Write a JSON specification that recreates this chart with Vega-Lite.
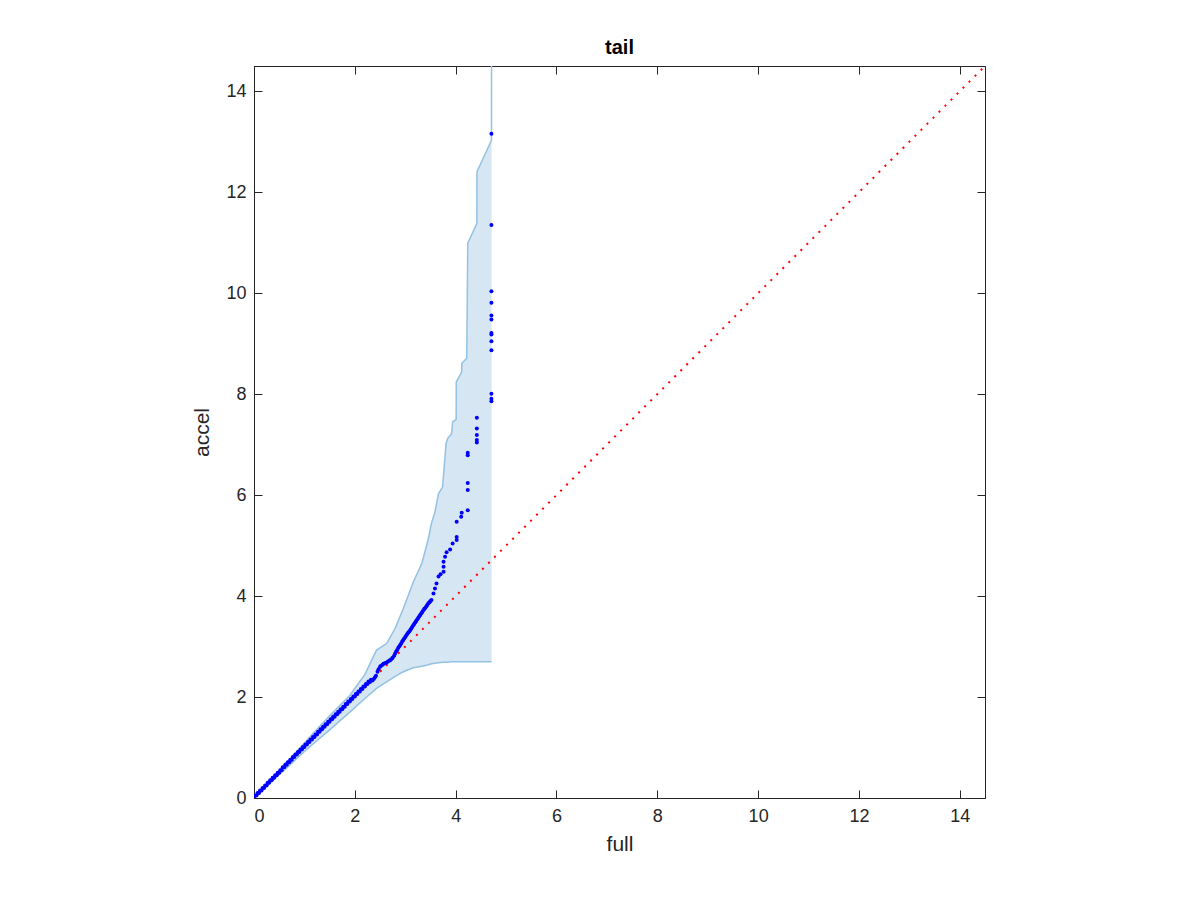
{
  "$schema": "https://vega.github.io/schema/vega-lite/v6.json",
  "autosize": {"type": "none"},
  "padding": {"left": 254, "top": 66, "right": 215, "bottom": 102},
  "width": 731,
  "height": 732,
  "background": "white",
  "title": {"text": "tail", "fontSize": 20, "fontWeight": "bold", "font": "Liberation Sans", "color": "#000000", "offset": 8, "anchor": "middle"},
  "config": {
    "view": {"stroke": "#262626", "strokeWidth": 1},
    "axis": {
      "grid": false, "domainColor": "#262626", "tickColor": "#262626", "labelColor": "#262626", "titleColor": "#262626",
      "labelFont": "Liberation Sans", "titleFont": "Liberation Sans", "labelFontSize": 18, "titleFontSize": 21, "titleFontWeight": "normal",
      "tickSize": -8, "tickWidth": 1, "domainWidth": 1
    }
  },
  "datasets": {
    "band": [
      {"x": 0.0, "hi": 0.0, "lo": 0.0},
      {"x": 0.5, "hi": 0.54, "lo": 0.46},
      {"x": 1.0, "hi": 1.09, "lo": 0.92},
      {"x": 1.24, "hi": 1.35, "lo": 1.13},
      {"x": 1.5, "hi": 1.63, "lo": 1.35},
      {"x": 1.9, "hi": 2.03, "lo": 1.70},
      {"x": 2.2, "hi": 2.45, "lo": 1.97},
      {"x": 2.43, "hi": 2.93, "lo": 2.17},
      {"x": 2.63, "hi": 3.06, "lo": 2.30},
      {"x": 2.80, "hi": 3.36, "lo": 2.41},
      {"x": 2.96, "hi": 3.75, "lo": 2.50},
      {"x": 3.16, "hi": 4.28, "lo": 2.58},
      {"x": 3.33, "hi": 4.65, "lo": 2.61},
      {"x": 3.46, "hi": 5.14, "lo": 2.64},
      {"x": 3.52, "hi": 5.44, "lo": 2.66},
      {"x": 3.59, "hi": 5.67, "lo": 2.67},
      {"x": 3.66, "hi": 6.03, "lo": 2.68},
      {"x": 3.74, "hi": 6.16, "lo": 2.69},
      {"x": 3.81, "hi": 7.02, "lo": 2.69},
      {"x": 3.84, "hi": 7.12, "lo": 2.69},
      {"x": 3.92, "hi": 7.22, "lo": 2.70},
      {"x": 3.94, "hi": 7.45, "lo": 2.70},
      {"x": 4.01, "hi": 7.50, "lo": 2.70},
      {"x": 4.012, "hi": 8.24, "lo": 2.70},
      {"x": 4.12, "hi": 8.44, "lo": 2.70},
      {"x": 4.122, "hi": 8.61, "lo": 2.70},
      {"x": 4.22, "hi": 8.71, "lo": 2.70},
      {"x": 4.24, "hi": 10.99, "lo": 2.70},
      {"x": 4.42, "hi": 11.38, "lo": 2.70},
      {"x": 4.422, "hi": 12.40, "lo": 2.70},
      {"x": 4.71, "hi": 13.03, "lo": 2.70},
      {"x": 4.712, "hi": 14.5, "lo": 2.70}
    ],
    "diag": [{"x": 0, "y": 0}, {"x": 14.5, "y": 14.5}],
    "qq": [
      {"x": 0.00, "y": 0.00}, {"x": 0.05, "y": 0.05}, {"x": 0.10, "y": 0.10}, {"x": 0.15, "y": 0.15}, {"x": 0.20, "y": 0.20},
      {"x": 0.25, "y": 0.25}, {"x": 0.30, "y": 0.30}, {"x": 0.35, "y": 0.35}, {"x": 0.40, "y": 0.40}, {"x": 0.45, "y": 0.45},
      {"x": 0.50, "y": 0.50}, {"x": 0.55, "y": 0.55}, {"x": 0.60, "y": 0.61}, {"x": 0.65, "y": 0.66}, {"x": 0.70, "y": 0.71},
      {"x": 0.75, "y": 0.76}, {"x": 0.80, "y": 0.81}, {"x": 0.85, "y": 0.86}, {"x": 0.90, "y": 0.91}, {"x": 0.95, "y": 0.96},
      {"x": 1.00, "y": 1.01}, {"x": 1.05, "y": 1.06}, {"x": 1.10, "y": 1.11}, {"x": 1.15, "y": 1.16}, {"x": 1.20, "y": 1.21},
      {"x": 1.25, "y": 1.26}, {"x": 1.30, "y": 1.31}, {"x": 1.35, "y": 1.36}, {"x": 1.40, "y": 1.41}, {"x": 1.45, "y": 1.46},
      {"x": 1.50, "y": 1.51}, {"x": 1.55, "y": 1.56}, {"x": 1.60, "y": 1.61}, {"x": 1.65, "y": 1.66}, {"x": 1.70, "y": 1.71},
      {"x": 1.75, "y": 1.76}, {"x": 1.80, "y": 1.81}, {"x": 1.85, "y": 1.86}, {"x": 1.90, "y": 1.91}, {"x": 1.95, "y": 1.96},
      {"x": 2.00, "y": 2.01}, {"x": 2.05, "y": 2.06}, {"x": 2.10, "y": 2.11}, {"x": 2.15, "y": 2.16}, {"x": 2.20, "y": 2.21},
      {"x": 2.25, "y": 2.26}, {"x": 2.30, "y": 2.30}, {"x": 2.35, "y": 2.33},
      {"x": 0.02, "y": 0.05}, {"x": 0.07, "y": 0.10}, {"x": 0.12, "y": 0.15}, {"x": 0.17, "y": 0.20}, {"x": 0.22, "y": 0.25},
      {"x": 0.27, "y": 0.30}, {"x": 0.32, "y": 0.35}, {"x": 0.37, "y": 0.40}, {"x": 0.42, "y": 0.45}, {"x": 0.47, "y": 0.50},
      {"x": 0.52, "y": 0.55}, {"x": 0.57, "y": 0.61}, {"x": 0.62, "y": 0.66}, {"x": 0.67, "y": 0.71}, {"x": 0.72, "y": 0.76},
      {"x": 0.77, "y": 0.81}, {"x": 0.82, "y": 0.86}, {"x": 0.87, "y": 0.91}, {"x": 0.92, "y": 0.96}, {"x": 0.97, "y": 1.01},
      {"x": 1.02, "y": 1.06}, {"x": 1.07, "y": 1.11}, {"x": 1.12, "y": 1.16}, {"x": 1.17, "y": 1.21}, {"x": 1.22, "y": 1.26},
      {"x": 1.27, "y": 1.31}, {"x": 1.32, "y": 1.36}, {"x": 1.37, "y": 1.41}, {"x": 1.42, "y": 1.46}, {"x": 1.47, "y": 1.51},
      {"x": 1.52, "y": 1.56}, {"x": 1.57, "y": 1.61}, {"x": 1.62, "y": 1.66}, {"x": 1.67, "y": 1.71}, {"x": 1.72, "y": 1.76},
      {"x": 1.77, "y": 1.81}, {"x": 1.82, "y": 1.86}, {"x": 1.87, "y": 1.91}, {"x": 1.92, "y": 1.96}, {"x": 1.97, "y": 2.01},
      {"x": 2.02, "y": 2.06}, {"x": 2.07, "y": 2.11}, {"x": 2.12, "y": 2.16}, {"x": 2.17, "y": 2.21}, {"x": 2.22, "y": 2.26},
      {"x": 2.27, "y": 2.31}, {"x": 2.32, "y": 2.34}, {"x": 2.40, "y": 2.39},
      {"x": 2.38, "y": 2.36}, {"x": 2.42, "y": 2.42}, {"x": 2.45, "y": 2.50}, {"x": 2.47, "y": 2.55}, {"x": 2.50, "y": 2.60},
      {"x": 2.52, "y": 2.62}, {"x": 2.57, "y": 2.66}, {"x": 2.62, "y": 2.68}, {"x": 2.68, "y": 2.72}, {"x": 2.72, "y": 2.75},
      {"x": 2.55, "y": 2.64}, {"x": 2.60, "y": 2.67}, {"x": 2.65, "y": 2.70}, {"x": 2.70, "y": 2.73}, {"x": 2.75, "y": 2.78},
      {"x": 2.78, "y": 2.82}, {"x": 2.82, "y": 2.90}, {"x": 2.86, "y": 2.97}, {"x": 2.90, "y": 3.03}, {"x": 2.94, "y": 3.10},
      {"x": 2.80, "y": 2.86}, {"x": 2.84, "y": 2.93}, {"x": 2.88, "y": 3.00}, {"x": 2.92, "y": 3.06}, {"x": 2.96, "y": 3.13},
      {"x": 2.98, "y": 3.16}, {"x": 3.02, "y": 3.22}, {"x": 3.06, "y": 3.28}, {"x": 3.10, "y": 3.33}, {"x": 3.14, "y": 3.39},
      {"x": 3.00, "y": 3.19}, {"x": 3.04, "y": 3.25}, {"x": 3.08, "y": 3.30}, {"x": 3.12, "y": 3.36}, {"x": 3.16, "y": 3.42},
      {"x": 3.18, "y": 3.45}, {"x": 3.22, "y": 3.51}, {"x": 3.26, "y": 3.57}, {"x": 3.30, "y": 3.63}, {"x": 3.34, "y": 3.69},
      {"x": 3.20, "y": 3.48}, {"x": 3.24, "y": 3.54}, {"x": 3.28, "y": 3.60}, {"x": 3.32, "y": 3.66}, {"x": 3.36, "y": 3.72},
      {"x": 3.38, "y": 3.75}, {"x": 3.42, "y": 3.80}, {"x": 3.46, "y": 3.86}, {"x": 3.50, "y": 3.90},
      {"x": 3.40, "y": 3.77}, {"x": 3.44, "y": 3.83}, {"x": 3.48, "y": 3.88}, {"x": 3.52, "y": 3.92}, {"x": 3.56, "y": 4.05},
      {"x": 3.59, "y": 4.15}, {"x": 3.62, "y": 4.25}, {"x": 3.66, "y": 4.39}, {"x": 3.70, "y": 4.43}, {"x": 3.76, "y": 4.48},
      {"x": 3.76, "y": 4.58}, {"x": 3.76, "y": 4.68}, {"x": 3.79, "y": 4.78}, {"x": 3.82, "y": 4.87}, {"x": 3.89, "y": 4.92},
      {"x": 3.94, "y": 5.04}, {"x": 4.02, "y": 5.11}, {"x": 4.02, "y": 5.17}, {"x": 4.02, "y": 5.47}, {"x": 4.11, "y": 5.57},
      {"x": 4.12, "y": 5.65}, {"x": 4.24, "y": 5.70}, {"x": 4.24, "y": 6.10}, {"x": 4.24, "y": 6.24}, {"x": 4.24, "y": 6.79},
      {"x": 4.24, "y": 6.84}, {"x": 4.42, "y": 7.04}, {"x": 4.42, "y": 7.09}, {"x": 4.42, "y": 7.19}, {"x": 4.42, "y": 7.32},
      {"x": 4.42, "y": 7.53}, {"x": 4.71, "y": 7.86}, {"x": 4.71, "y": 7.91}, {"x": 4.71, "y": 8.01}, {"x": 4.71, "y": 8.87},
      {"x": 4.71, "y": 9.05}, {"x": 4.71, "y": 9.18}, {"x": 4.71, "y": 9.21}, {"x": 4.71, "y": 9.48}, {"x": 4.71, "y": 9.56},
      {"x": 4.71, "y": 9.81}, {"x": 4.71, "y": 10.04}, {"x": 4.71, "y": 11.35}, {"x": 4.71, "y": 13.16}
    ]
  },
  "resolve": {"axis": {"x": "independent", "y": "independent"}},
  "layer": [
    {
      "data": {"name": "band"},
      "mark": {"type": "area", "fill": "#d6e6f2", "fillOpacity": 1, "clip": true},
      "encoding": {
        "x": {"field": "x", "type": "quantitative", "scale": {"domain": [0, 14.5], "nice": false}, "axis": {"orient": "bottom", "values": [0, 2, 4, 6, 8, 10, 12, 14], "title": "full", "labelPadding": 17, "titlePadding": 8}},
        "y": {"field": "hi", "type": "quantitative", "scale": {"domain": [0, 14.5], "nice": false}, "axis": {"orient": "left", "values": [0, 2, 4, 6, 8, 10, 12, 14], "title": "accel", "labelPadding": 16, "titlePadding": 13}},
        "y2": {"field": "lo"}
      }
    },
    {
      "data": {"name": "band"},
      "mark": {"type": "line", "color": "#93c2e2", "strokeWidth": 1.5, "clip": true},
      "encoding": {
        "x": {"field": "x", "type": "quantitative", "axis": null},
        "y": {"field": "hi", "type": "quantitative", "axis": null}
      }
    },
    {
      "data": {"name": "band"},
      "mark": {"type": "line", "color": "#93c2e2", "strokeWidth": 1.5, "clip": true},
      "encoding": {
        "x": {"field": "x", "type": "quantitative", "axis": null},
        "y": {"field": "lo", "type": "quantitative", "axis": null}
      }
    },
    {
      "data": {"name": "diag"},
      "mark": {"type": "line", "color": "#ff0000", "strokeWidth": 2, "strokeDash": [2, 6.5], "strokeCap": "butt", "clip": true},
      "encoding": {
        "x": {"field": "x", "type": "quantitative", "axis": {"orient": "top", "values": [0, 2, 4, 6, 8, 10, 12, 14], "labels": false, "title": null}},
        "y": {"field": "y", "type": "quantitative", "axis": {"orient": "right", "values": [0, 2, 4, 6, 8, 10, 12, 14], "labels": false, "title": null}}
      }
    },
    {
      "data": {"name": "qq"},
      "mark": {"type": "circle", "color": "#0000ff", "size": 16, "opacity": 1, "clip": true},
      "encoding": {
        "x": {"field": "x", "type": "quantitative", "axis": null},
        "y": {"field": "y", "type": "quantitative", "axis": null}
      }
    }
  ]
}
